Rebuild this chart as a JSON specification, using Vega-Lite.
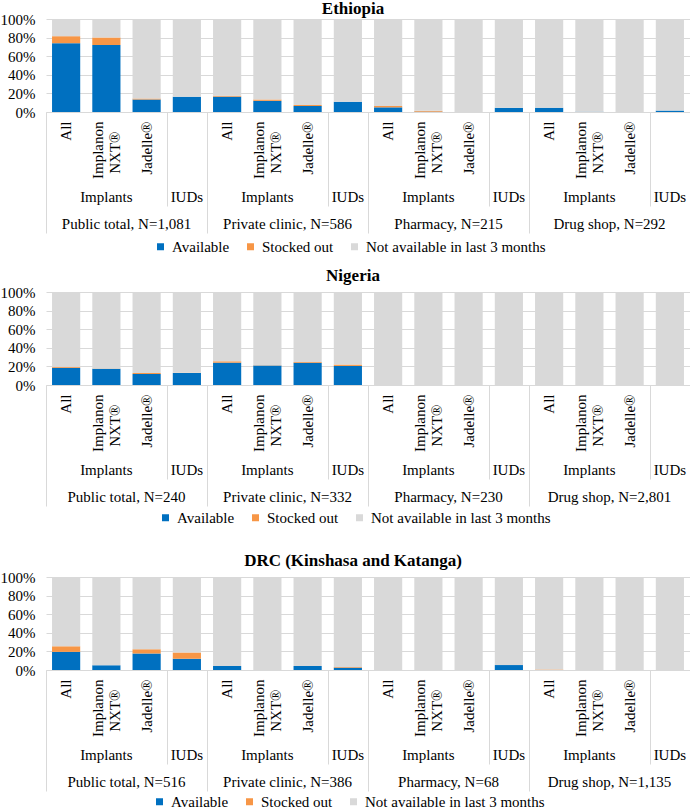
{
  "$schema": "https://vega.github.io/schema/vega-lite/v6.json",
  "padding": 0,
  "background": "white",
  "config": {
    "font": "Liberation Serif, Times New Roman, serif",
    "view": {"stroke": null},
    "axis": {"labelFont": "Liberation Serif, Times New Roman, serif", "labelColor": "black", "labelFontSize": 15, "labelOverlap": false, "labelLimit": 0, "labelBound": false},
    "legend": {"labelFont": "Liberation Serif, Times New Roman, serif"},
    "title": {"font": "Liberation Serif, Times New Roman, serif"}
  },
  "datasets": {
    "survey": [
      {"country": "Ethiopia", "bar": "Public total, N=1,081|All", "available": 74, "stockedOut": 7.5, "unavailable": 18.5},
      {"country": "Ethiopia", "bar": "Public total, N=1,081|Implanon NXT®", "available": 72, "stockedOut": 8, "unavailable": 20},
      {"country": "Ethiopia", "bar": "Public total, N=1,081|Jadelle®", "available": 13.5, "stockedOut": 1, "unavailable": 85.5},
      {"country": "Ethiopia", "bar": "Public total, N=1,081|IUDs", "available": 16.5, "stockedOut": 0, "unavailable": 83.5},
      {"country": "Ethiopia", "bar": "Private clinic, N=586|All", "available": 16.5, "stockedOut": 1, "unavailable": 82.5},
      {"country": "Ethiopia", "bar": "Private clinic, N=586|Implanon NXT®", "available": 12, "stockedOut": 1.5, "unavailable": 86.5},
      {"country": "Ethiopia", "bar": "Private clinic, N=586|Jadelle®", "available": 6.5, "stockedOut": 1, "unavailable": 92.5},
      {"country": "Ethiopia", "bar": "Private clinic, N=586|IUDs", "available": 11, "stockedOut": 0, "unavailable": 89},
      {"country": "Ethiopia", "bar": "Pharmacy, N=215|All", "available": 5, "stockedOut": 1.5, "unavailable": 93.5},
      {"country": "Ethiopia", "bar": "Pharmacy, N=215|Implanon NXT®", "available": 0.3, "stockedOut": 1, "unavailable": 98.7},
      {"country": "Ethiopia", "bar": "Pharmacy, N=215|Jadelle®", "available": 0, "stockedOut": 0, "unavailable": 100},
      {"country": "Ethiopia", "bar": "Pharmacy, N=215|IUDs", "available": 4.5, "stockedOut": 0, "unavailable": 95.5},
      {"country": "Ethiopia", "bar": "Drug shop, N=292|All", "available": 4.5, "stockedOut": 0, "unavailable": 95.5},
      {"country": "Ethiopia", "bar": "Drug shop, N=292|Implanon NXT®", "available": 0.3, "stockedOut": 0, "unavailable": 99.7},
      {"country": "Ethiopia", "bar": "Drug shop, N=292|Jadelle®", "available": 0, "stockedOut": 0, "unavailable": 100},
      {"country": "Ethiopia", "bar": "Drug shop, N=292|IUDs", "available": 1.5, "stockedOut": 0, "unavailable": 98.5},
      {"country": "Nigeria", "bar": "Public total, N=240|All", "available": 18.5, "stockedOut": 1, "unavailable": 80.5},
      {"country": "Nigeria", "bar": "Public total, N=240|Implanon NXT®", "available": 17.5, "stockedOut": 0.3, "unavailable": 82.2},
      {"country": "Nigeria", "bar": "Public total, N=240|Jadelle®", "available": 11.8, "stockedOut": 1.2, "unavailable": 87},
      {"country": "Nigeria", "bar": "Public total, N=240|IUDs", "available": 13, "stockedOut": 0.3, "unavailable": 86.7},
      {"country": "Nigeria", "bar": "Private clinic, N=332|All", "available": 24, "stockedOut": 1.5, "unavailable": 74.5},
      {"country": "Nigeria", "bar": "Private clinic, N=332|Implanon NXT®", "available": 21, "stockedOut": 0.3, "unavailable": 78.7},
      {"country": "Nigeria", "bar": "Private clinic, N=332|Jadelle®", "available": 24, "stockedOut": 0.8, "unavailable": 75.2},
      {"country": "Nigeria", "bar": "Private clinic, N=332|IUDs", "available": 20.5, "stockedOut": 1.5, "unavailable": 78},
      {"country": "Nigeria", "bar": "Pharmacy, N=230|All", "available": 0, "stockedOut": 0, "unavailable": 100},
      {"country": "Nigeria", "bar": "Pharmacy, N=230|Implanon NXT®", "available": 0, "stockedOut": 0, "unavailable": 100},
      {"country": "Nigeria", "bar": "Pharmacy, N=230|Jadelle®", "available": 0, "stockedOut": 0, "unavailable": 100},
      {"country": "Nigeria", "bar": "Pharmacy, N=230|IUDs", "available": 0, "stockedOut": 0, "unavailable": 100},
      {"country": "Nigeria", "bar": "Drug shop, N=2,801|All", "available": 0, "stockedOut": 0, "unavailable": 100},
      {"country": "Nigeria", "bar": "Drug shop, N=2,801|Implanon NXT®", "available": 0, "stockedOut": 0, "unavailable": 100},
      {"country": "Nigeria", "bar": "Drug shop, N=2,801|Jadelle®", "available": 0, "stockedOut": 0, "unavailable": 100},
      {"country": "Nigeria", "bar": "Drug shop, N=2,801|IUDs", "available": 0, "stockedOut": 0, "unavailable": 100},
      {"country": "DRC", "bar": "Public total, N=516|All", "available": 19.5, "stockedOut": 6, "unavailable": 74.5},
      {"country": "DRC", "bar": "Public total, N=516|Implanon NXT®", "available": 5, "stockedOut": 0, "unavailable": 95},
      {"country": "DRC", "bar": "Public total, N=516|Jadelle®", "available": 17.7, "stockedOut": 4.6, "unavailable": 77.7},
      {"country": "DRC", "bar": "Public total, N=516|IUDs", "available": 12, "stockedOut": 6.8, "unavailable": 81.2},
      {"country": "DRC", "bar": "Private clinic, N=386|All", "available": 4.3, "stockedOut": 0, "unavailable": 95.7},
      {"country": "DRC", "bar": "Private clinic, N=386|Implanon NXT®", "available": 0, "stockedOut": 0, "unavailable": 100},
      {"country": "DRC", "bar": "Private clinic, N=386|Jadelle®", "available": 4.3, "stockedOut": 0, "unavailable": 95.7},
      {"country": "DRC", "bar": "Private clinic, N=386|IUDs", "available": 2.5, "stockedOut": 0.7, "unavailable": 96.8},
      {"country": "DRC", "bar": "Pharmacy, N=68|All", "available": 0, "stockedOut": 0, "unavailable": 100},
      {"country": "DRC", "bar": "Pharmacy, N=68|Implanon NXT®", "available": 0, "stockedOut": 0, "unavailable": 100},
      {"country": "DRC", "bar": "Pharmacy, N=68|Jadelle®", "available": 0, "stockedOut": 0, "unavailable": 100},
      {"country": "DRC", "bar": "Pharmacy, N=68|IUDs", "available": 5.3, "stockedOut": 0, "unavailable": 94.7},
      {"country": "DRC", "bar": "Drug shop, N=1,135|All", "available": 0, "stockedOut": 0.5, "unavailable": 99.5},
      {"country": "DRC", "bar": "Drug shop, N=1,135|Implanon NXT®", "available": 0, "stockedOut": 0, "unavailable": 100},
      {"country": "DRC", "bar": "Drug shop, N=1,135|Jadelle®", "available": 0, "stockedOut": 0, "unavailable": 100},
      {"country": "DRC", "bar": "Drug shop, N=1,135|IUDs", "available": 0, "stockedOut": 0, "unavailable": 100}
    ]
  },
  "vconcat": [
    {
      "data": {"name": "survey"},
      "transform": [
        {"filter": "datum.country === 'Ethiopia'"},
        {"fold": ["available", "stockedOut", "unavailable"], "as": ["status", "pct"]}
      ],
      "title": {"text": "Ethiopia", "anchor": "middle", "frame": "bounds", "dx": 8, "offset": -6, "font": "Liberation Serif, Times New Roman, serif", "fontSize": 17, "fontWeight": "bold", "color": "black"},
      "width": 644,
      "height": 93,
      "layer": [
        {
          "mark": {"type": "bar"},
          "encoding": {
            "x": {"field": "bar", "type": "nominal", "sort": null, "scale": {"paddingInner": 0.3, "paddingOuter": 0.15},
              "axis": {"orient": "bottom", "title": null, "ticks": false, "domain": true, "domainColor": "#d9d9d9", "labelAngle": 270, "labelAlign": "right", "labelBaseline": "middle", "labelPadding": 9, "labelFont": "Liberation Serif, Times New Roman, serif", "labelFontSize": 15, "labelColor": "black",
                "labelExpr": "split(datum.value,'|')[1] === 'IUDs' ? '' : split(datum.value,'|')[1] === 'Implanon NXT®' ? 'Implanon' : split(datum.value,'|')[1]",
                "labelOffset": {"condition": {"test": "split(datum.value,'|')[1] === 'Implanon NXT®'", "value": -8.5}, "value": 0}}},
            "y": {"field": "pct", "type": "quantitative", "stack": "zero", "scale": {"domain": [0, 100], "nice": false},
              "axis": {"title": null, "values": [0, 20, 40, 60, 80, 100], "labelExpr": "datum.value + '%'", "domain": false, "ticks": false, "grid": true, "gridColor": "#d9d9d9", "labelPadding": 11, "labelFont": "Liberation Serif, Times New Roman, serif", "labelFontSize": 15, "labelColor": "black"}},
            "color": {"field": "status", "type": "nominal", "scale": {"domain": ["available", "stockedOut", "unavailable"], "range": ["#0070C0", "#F79646", "#D9D9D9"]},
              "legend": {"orient": "none", "legendX": 107, "legendY": 220, "direction": "horizontal", "title": null, "symbolType": "square", "symbolSize": 49, "symbolStrokeWidth": 0, "labelFont": "Liberation Serif, Times New Roman, serif", "labelFontSize": 15, "labelColor": "black", "labelOffset": 4, "columnPadding": 13, "labelLimit": 0,
                "labelExpr": "datum.value === 'available' ? 'Available' : datum.value === 'stockedOut' ? 'Stocked out' : 'Not available in last 3 months'"}},
            "order": {"field": "status", "type": "ordinal", "sort": "ascending"}
          }
        },
        {
          "mark": {"type": "rule", "opacity": 0},
          "encoding": {"x": {"field": "bar", "type": "nominal", "sort": null,
            "axis": {"orient": "bottom", "title": null, "ticks": false, "domain": false, "labelAngle": 270, "labelAlign": "right", "labelBaseline": "middle", "labelPadding": 19, "labelOffset": 8.5, "labelFont": "Liberation Serif, Times New Roman, serif", "labelFontSize": 15, "labelColor": "black",
              "labelExpr": "split(datum.value,'|')[1] === 'Implanon NXT®' ? 'NXT®' : ''"}},
            "y": {"datum": 0, "type": "quantitative", "axis": null}, "y2": {"datum": 100}}
        },
        {
          "mark": {"type": "rule", "opacity": 0},
          "encoding": {"x": {"field": "bar", "type": "nominal", "sort": null,
            "axis": {"orient": "bottom", "title": null, "ticks": false, "domain": false, "labelAngle": 0, "labelAlign": "center", "labelBaseline": "alphabetic", "labelPadding": 89, "labelFont": "Liberation Serif, Times New Roman, serif", "labelFontSize": 15, "labelColor": "black",
              "labelExpr": "split(datum.value,'|')[1] === 'Implanon NXT®' ? 'Implants' : split(datum.value,'|')[1] === 'IUDs' ? 'IUDs' : ''"}},
            "y": {"datum": 0, "type": "quantitative", "axis": null}, "y2": {"datum": 100}}
        },
        {
          "mark": {"type": "rule", "opacity": 0},
          "encoding": {"x": {"field": "bar", "type": "nominal", "sort": null,
            "axis": {"orient": "bottom", "title": null, "ticks": false, "domain": false, "labelAngle": 0, "labelAlign": "center", "labelBaseline": "alphabetic", "labelPadding": 116, "labelOffset": 20.13, "labelFont": "Liberation Serif, Times New Roman, serif", "labelFontSize": 15, "labelColor": "black",
              "labelExpr": "split(datum.value,'|')[1] === 'Implanon NXT®' ? split(datum.value,'|')[0] : ''"}},
            "y": {"datum": 0, "type": "quantitative", "axis": null}, "y2": {"datum": 100}}
        },
        {
          "mark": {"type": "rule", "opacity": 0},
          "encoding": {"x": {"field": "bar", "type": "nominal", "sort": null,
            "axis": {"orient": "bottom", "title": null, "labels": false, "domain": false, "ticks": true, "tickSize": 121, "tickColor": "#d9d9d9", "tickWidth": 1, "bandPosition": 0, "tickOffset": -6,
              "tickOpacity": {"condition": {"test": "split(datum.value,'|')[1] === 'All'", "value": 1}, "value": 0}}},
            "y": {"datum": 0, "type": "quantitative", "axis": null}, "y2": {"datum": 100}}
        },
        {
          "mark": {"type": "rule", "opacity": 0},
          "encoding": {"x": {"field": "bar", "type": "nominal", "sort": null,
            "axis": {"orient": "bottom", "title": null, "labels": false, "domain": false, "ticks": true, "tickSize": 94, "tickColor": "#d9d9d9", "tickWidth": 1, "bandPosition": 0, "tickOffset": -6,
              "tickOpacity": {"condition": {"test": "split(datum.value,'|')[1] === 'IUDs'", "value": 1}, "value": 0}}},
            "y": {"datum": 0, "type": "quantitative", "axis": null}, "y2": {"datum": 100}}
        }
      ],
      "resolve": {"axis": {"x": "independent", "y": "independent"}}
    },
    {
      "vconcat": [
        {
          "data": {"name": "survey"},
          "transform": [
            {"filter": "datum.country === 'Nigeria'"},
            {"fold": ["available", "stockedOut", "unavailable"], "as": ["status", "pct"]}
          ],
          "title": {"text": "Nigeria", "anchor": "middle", "frame": "bounds", "dx": 8, "offset": 0, "font": "Liberation Serif, Times New Roman, serif", "fontSize": 17, "fontWeight": "bold", "color": "black"},
          "width": 644,
          "height": 93,
          "layer": [
            {
              "mark": {"type": "bar"},
              "encoding": {
                "x": {"field": "bar", "type": "nominal", "sort": null, "scale": {"paddingInner": 0.3, "paddingOuter": 0.15},
                  "axis": {"orient": "bottom", "title": null, "ticks": false, "domain": true, "domainColor": "#d9d9d9", "labelAngle": 270, "labelAlign": "right", "labelBaseline": "middle", "labelPadding": 9, "labelFont": "Liberation Serif, Times New Roman, serif", "labelFontSize": 15, "labelColor": "black",
                    "labelExpr": "split(datum.value,'|')[1] === 'IUDs' ? '' : split(datum.value,'|')[1] === 'Implanon NXT®' ? 'Implanon' : split(datum.value,'|')[1]",
                    "labelOffset": {"condition": {"test": "split(datum.value,'|')[1] === 'Implanon NXT®'", "value": -8.5}, "value": 0}}},
                "y": {"field": "pct", "type": "quantitative", "stack": "zero", "scale": {"domain": [0, 100], "nice": false},
                  "axis": {"title": null, "values": [0, 20, 40, 60, 80, 100], "labelExpr": "datum.value + '%'", "domain": false, "ticks": false, "grid": true, "gridColor": "#d9d9d9", "labelPadding": 11, "labelFont": "Liberation Serif, Times New Roman, serif", "labelFontSize": 15, "labelColor": "black"}},
                "color": {"field": "status", "type": "nominal", "scale": {"domain": ["available", "stockedOut", "unavailable"], "range": ["#0070C0", "#F79646", "#D9D9D9"]},
                  "legend": {"orient": "none", "legendX": 112, "legendY": 218, "direction": "horizontal", "title": null, "symbolType": "square", "symbolSize": 49, "symbolStrokeWidth": 0, "labelFont": "Liberation Serif, Times New Roman, serif", "labelFontSize": 15, "labelColor": "black", "labelOffset": 4, "columnPadding": 13, "labelLimit": 0,
                    "labelExpr": "datum.value === 'available' ? 'Available' : datum.value === 'stockedOut' ? 'Stocked out' : 'Not available in last 3 months'"}},
                "order": {"field": "status", "type": "ordinal", "sort": "ascending"}
              }
            },
            {
              "mark": {"type": "rule", "opacity": 0},
              "encoding": {"x": {"field": "bar", "type": "nominal", "sort": null,
                "axis": {"orient": "bottom", "title": null, "ticks": false, "domain": false, "labelAngle": 270, "labelAlign": "right", "labelBaseline": "middle", "labelPadding": 19, "labelOffset": 8.5, "labelFont": "Liberation Serif, Times New Roman, serif", "labelFontSize": 15, "labelColor": "black",
                  "labelExpr": "split(datum.value,'|')[1] === 'Implanon NXT®' ? 'NXT®' : ''"}},
                "y": {"datum": 0, "type": "quantitative", "axis": null}, "y2": {"datum": 100}}
            },
            {
              "mark": {"type": "rule", "opacity": 0},
              "encoding": {"x": {"field": "bar", "type": "nominal", "sort": null,
                "axis": {"orient": "bottom", "title": null, "ticks": false, "domain": false, "labelAngle": 0, "labelAlign": "center", "labelBaseline": "alphabetic", "labelPadding": 89, "labelFont": "Liberation Serif, Times New Roman, serif", "labelFontSize": 15, "labelColor": "black",
                  "labelExpr": "split(datum.value,'|')[1] === 'Implanon NXT®' ? 'Implants' : split(datum.value,'|')[1] === 'IUDs' ? 'IUDs' : ''"}},
                "y": {"datum": 0, "type": "quantitative", "axis": null}, "y2": {"datum": 100}}
            },
            {
              "mark": {"type": "rule", "opacity": 0},
              "encoding": {"x": {"field": "bar", "type": "nominal", "sort": null,
                "axis": {"orient": "bottom", "title": null, "ticks": false, "domain": false, "labelAngle": 0, "labelAlign": "center", "labelBaseline": "alphabetic", "labelPadding": 116, "labelOffset": 20.13, "labelFont": "Liberation Serif, Times New Roman, serif", "labelFontSize": 15, "labelColor": "black",
                  "labelExpr": "split(datum.value,'|')[1] === 'Implanon NXT®' ? split(datum.value,'|')[0] : ''"}},
                "y": {"datum": 0, "type": "quantitative", "axis": null}, "y2": {"datum": 100}}
            },
            {
              "mark": {"type": "rule", "opacity": 0},
              "encoding": {"x": {"field": "bar", "type": "nominal", "sort": null,
                "axis": {"orient": "bottom", "title": null, "labels": false, "domain": false, "ticks": true, "tickSize": 121, "tickColor": "#d9d9d9", "tickWidth": 1, "bandPosition": 0, "tickOffset": -6,
                  "tickOpacity": {"condition": {"test": "split(datum.value,'|')[1] === 'All'", "value": 1}, "value": 0}}},
                "y": {"datum": 0, "type": "quantitative", "axis": null}, "y2": {"datum": 100}}
            },
            {
              "mark": {"type": "rule", "opacity": 0},
              "encoding": {"x": {"field": "bar", "type": "nominal", "sort": null,
                "axis": {"orient": "bottom", "title": null, "labels": false, "domain": false, "ticks": true, "tickSize": 94, "tickColor": "#d9d9d9", "tickWidth": 1, "bandPosition": 0, "tickOffset": -6,
                  "tickOpacity": {"condition": {"test": "split(datum.value,'|')[1] === 'IUDs'", "value": 1}, "value": 0}}},
                "y": {"datum": 0, "type": "quantitative", "axis": null}, "y2": {"datum": 100}}
            }
          ],
          "resolve": {"axis": {"x": "independent", "y": "independent"}}
        },
        {
          "data": {"name": "survey"},
          "transform": [
            {"filter": "datum.country === 'DRC'"},
            {"fold": ["available", "stockedOut", "unavailable"], "as": ["status", "pct"]}
          ],
          "title": {"text": "DRC (Kinshasa and Katanga)", "anchor": "middle", "frame": "bounds", "dx": 8, "offset": 0, "font": "Liberation Serif, Times New Roman, serif", "fontSize": 17, "fontWeight": "bold", "color": "black"},
          "width": 644,
          "height": 93,
          "layer": [
            {
              "mark": {"type": "bar"},
              "encoding": {
                "x": {"field": "bar", "type": "nominal", "sort": null, "scale": {"paddingInner": 0.3, "paddingOuter": 0.15},
                  "axis": {"orient": "bottom", "title": null, "ticks": false, "domain": true, "domainColor": "#d9d9d9", "labelAngle": 270, "labelAlign": "right", "labelBaseline": "middle", "labelPadding": 9, "labelFont": "Liberation Serif, Times New Roman, serif", "labelFontSize": 15, "labelColor": "black",
                    "labelExpr": "split(datum.value,'|')[1] === 'IUDs' ? '' : split(datum.value,'|')[1] === 'Implanon NXT®' ? 'Implanon' : split(datum.value,'|')[1]",
                    "labelOffset": {"condition": {"test": "split(datum.value,'|')[1] === 'Implanon NXT®'", "value": -8.5}, "value": 0}}},
                "y": {"field": "pct", "type": "quantitative", "stack": "zero", "scale": {"domain": [0, 100], "nice": false},
                  "axis": {"title": null, "values": [0, 20, 40, 60, 80, 100], "labelExpr": "datum.value + '%'", "domain": false, "ticks": false, "grid": true, "gridColor": "#d9d9d9", "labelPadding": 11, "labelFont": "Liberation Serif, Times New Roman, serif", "labelFontSize": 15, "labelColor": "black"}},
                "color": {"field": "status", "type": "nominal", "scale": {"domain": ["available", "stockedOut", "unavailable"], "range": ["#0070C0", "#F79646", "#D9D9D9"]},
                  "legend": {"orient": "none", "legendX": 106, "legendY": 217, "direction": "horizontal", "title": null, "symbolType": "square", "symbolSize": 49, "symbolStrokeWidth": 0, "labelFont": "Liberation Serif, Times New Roman, serif", "labelFontSize": 15, "labelColor": "black", "labelOffset": 4, "columnPadding": 13, "labelLimit": 0,
                    "labelExpr": "datum.value === 'available' ? 'Available' : datum.value === 'stockedOut' ? 'Stocked out' : 'Not available in last 3 months'"}},
                "order": {"field": "status", "type": "ordinal", "sort": "ascending"}
              }
            },
            {
              "mark": {"type": "rule", "opacity": 0},
              "encoding": {"x": {"field": "bar", "type": "nominal", "sort": null,
                "axis": {"orient": "bottom", "title": null, "ticks": false, "domain": false, "labelAngle": 270, "labelAlign": "right", "labelBaseline": "middle", "labelPadding": 19, "labelOffset": 8.5, "labelFont": "Liberation Serif, Times New Roman, serif", "labelFontSize": 15, "labelColor": "black",
                  "labelExpr": "split(datum.value,'|')[1] === 'Implanon NXT®' ? 'NXT®' : ''"}},
                "y": {"datum": 0, "type": "quantitative", "axis": null}, "y2": {"datum": 100}}
            },
            {
              "mark": {"type": "rule", "opacity": 0},
              "encoding": {"x": {"field": "bar", "type": "nominal", "sort": null,
                "axis": {"orient": "bottom", "title": null, "ticks": false, "domain": false, "labelAngle": 0, "labelAlign": "center", "labelBaseline": "alphabetic", "labelPadding": 89, "labelFont": "Liberation Serif, Times New Roman, serif", "labelFontSize": 15, "labelColor": "black",
                  "labelExpr": "split(datum.value,'|')[1] === 'Implanon NXT®' ? 'Implants' : split(datum.value,'|')[1] === 'IUDs' ? 'IUDs' : ''"}},
                "y": {"datum": 0, "type": "quantitative", "axis": null}, "y2": {"datum": 100}}
            },
            {
              "mark": {"type": "rule", "opacity": 0},
              "encoding": {"x": {"field": "bar", "type": "nominal", "sort": null,
                "axis": {"orient": "bottom", "title": null, "ticks": false, "domain": false, "labelAngle": 0, "labelAlign": "center", "labelBaseline": "alphabetic", "labelPadding": 116, "labelOffset": 20.13, "labelFont": "Liberation Serif, Times New Roman, serif", "labelFontSize": 15, "labelColor": "black",
                  "labelExpr": "split(datum.value,'|')[1] === 'Implanon NXT®' ? split(datum.value,'|')[0] : ''"}},
                "y": {"datum": 0, "type": "quantitative", "axis": null}, "y2": {"datum": 100}}
            },
            {
              "mark": {"type": "rule", "opacity": 0},
              "encoding": {"x": {"field": "bar", "type": "nominal", "sort": null,
                "axis": {"orient": "bottom", "title": null, "labels": false, "domain": false, "ticks": true, "tickSize": 121, "tickColor": "#d9d9d9", "tickWidth": 1, "bandPosition": 0, "tickOffset": -6,
                  "tickOpacity": {"condition": {"test": "split(datum.value,'|')[1] === 'All'", "value": 1}, "value": 0}}},
                "y": {"datum": 0, "type": "quantitative", "axis": null}, "y2": {"datum": 100}}
            },
            {
              "mark": {"type": "rule", "opacity": 0},
              "encoding": {"x": {"field": "bar", "type": "nominal", "sort": null,
                "axis": {"orient": "bottom", "title": null, "labels": false, "domain": false, "ticks": true, "tickSize": 94, "tickColor": "#d9d9d9", "tickWidth": 1, "bandPosition": 0, "tickOffset": -6,
                  "tickOpacity": {"condition": {"test": "split(datum.value,'|')[1] === 'IUDs'", "value": 1}, "value": 0}}},
                "y": {"datum": 0, "type": "quantitative", "axis": null}, "y2": {"datum": 100}}
            }
          ],
          "resolve": {"axis": {"x": "independent", "y": "independent"}}
        }
      ],
      "spacing": 26,
      "resolve": {"scale": {"color": "independent"}, "legend": {"color": "independent"}}
    }
  ],
  "spacing": 12,
  "resolve": {"scale": {"color": "independent"}, "legend": {"color": "independent"}}
}
